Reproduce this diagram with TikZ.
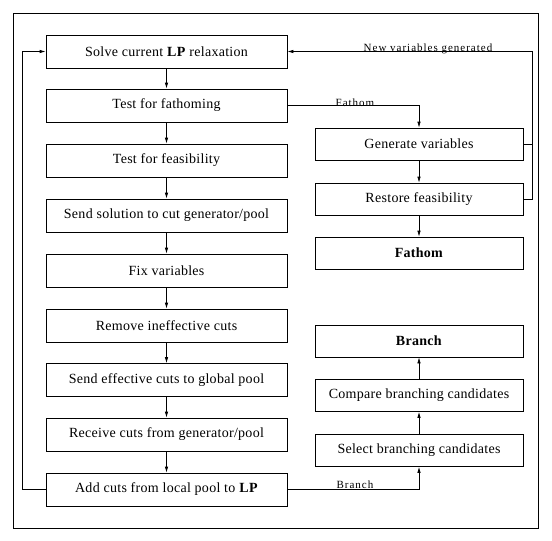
\documentclass[tikz,border=0pt]{standalone}
\usepackage{fontspec}
\setmainfont{Liberation Serif}
\newfontfamily\boxfont[LetterSpace=2]{Liberation Serif}
\newfontfamily\labfont[LetterSpace=9]{Liberation Serif}
\usetikzlibrary{arrows.meta}
\begin{document}
\begin{tikzpicture}[x=1pt,y=-1pt,
  lbox/.style={draw,line width=0.7pt,minimum width=241pt,minimum height=33pt,inner sep=0pt,font=\boxfont\fontsize{14}{16}\selectfont},
  rbox/.style={draw,line width=0.7pt,minimum width=208pt,minimum height=32pt,inner sep=0pt,font=\boxfont\fontsize{14}{16}\selectfont},
  arr/.style={line width=0.7pt,-{Latex[length=6pt,width=3.5pt]}},
  ln/.style={line width=0.7pt},
  lab/.style={font=\labfont\fontsize{11}{13}\selectfont,inner sep=0pt,anchor=base}]
\useasboundingbox (0,0) rectangle (552,541);
\draw[line width=0.8pt] (13,13) rectangle (538,528);
\node[lbox] (solve) at (166.5,51.5) {Solve current \textbf{LP} relaxation};
\node[lbox] (fath) at (166.5,105.5) {Test for fathoming};
\node[lbox] (feas) at (166.5,160.5) {Test for feasibility};
\node[lbox] (send) at (166.5,215.5) {Send solution to cut generator/pool};
\node[lbox] (fix) at (166.5,270.5) {Fix variables};
\node[lbox] (rem) at (166.5,325.5) {Remove ineffective cuts};
\node[lbox] (eff) at (166.5,380) {Send effective cuts to global pool};
\node[lbox] (rec) at (166.5,434.5) {Receive cuts from generator/pool};
\node[lbox] (add) at (166.5,489.5) {Add cuts from local pool to \textbf{LP}};
\node[rbox] (gen) at (419,144) {Generate variables};
\node[rbox] (res) at (419,199) {Restore feasibility};
\node[rbox] (fat) at (419,253) {\textbf{Fathom}};
\node[rbox] (br) at (419,341) {\textbf{Branch}};
\node[rbox] (cmp) at (419,395.5) {Compare branching candidates};
\node[rbox] (sel) at (419,450.5) {Select branching candidates};
\foreach \a/\b in {solve/fath,fath/feas,feas/send,send/fix,fix/rem,rem/eff,eff/rec,rec/add,gen/res,res/fat,sel/cmp,cmp/br}
  \draw[arr] (\a) -- (\b);
\draw[arr] (add.west) -- ([xshift=-23pt]add.west) |- (solve.west);
\draw[arr] (fath.east) -| (gen.north);
\node[lab] (lf) at (355,106) {Fathom};
\draw[arr] (add.east) -| (sel.south);
\node[lab] (lb) at (355,488) {Branch};
\draw[ln] (gen.east) -- ++(9,0);
\draw[arr] (res.east) -- ++(9,0) |- (solve.east);
\node[lab] (ln) at (428,51) {New variables generated};
\end{tikzpicture}
\end{document}
